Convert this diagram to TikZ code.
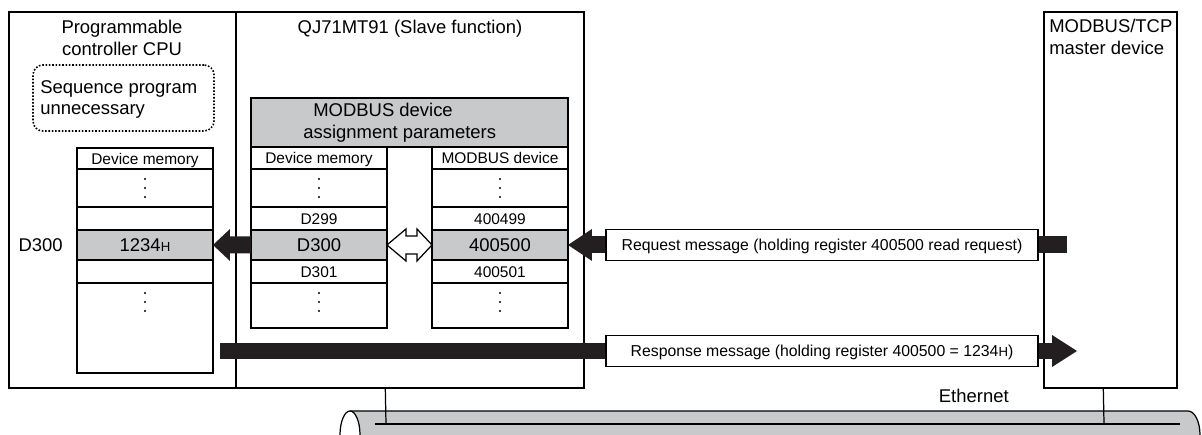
\documentclass[tikz,border=0pt]{standalone}
\usepackage{fontspec}
\setmainfont{Liberation Sans}
\usepackage{xcolor}
\usetikzlibrary{positioning, fit, calc, arrows.meta}

\definecolor{regfill}{RGB}{200,201,202}
\definecolor{arrowfill}{RGB}{35,31,32}
\newcommand{\hexh}{{\fontsize{7.5}{9}\selectfont H}}

\begin{document}
\begin{tikzpicture}[
    x=0.02cm, y=-0.02cm,
    frame/.style={draw, line width=0.8pt, inner sep=0pt},
    title/.style={font=\fontsize{10.5}{12.3}\selectfont, inner sep=0pt, align=left},
    row/.style={draw, line width=0.7pt, minimum width=2.72cm, inner sep=0pt, outer sep=0pt},
    cell/.style={row, font=\fontsize{8.8}{10}\selectfont, text height=6.3pt, text depth=0pt},
    bigcell/.style={cell, fill=regfill, font=\fontsize{10.5}{12}\selectfont, text height=7.5pt},
    msgbox/.style={draw, line width=0.7pt, fill=white, minimum width=8.64cm, minimum height=0.61cm, inner sep=0pt, font=\fontsize{9}{11}\selectfont, text height=6.5pt, text depth=0pt},
    bigarrow/.style={draw=arrowfill, color=arrowfill, line width=0.34cm, -{Triangle[length=#1, width=0.64cm, line width=0pt]}},
    vdotcol/.pic={\fill (0,0) circle (1.1) (0,9) circle (1.1) (0,18) circle (1.1);}
]
\useasboundingbox (0,0) rectangle (1202,435);
\clip (0,0) rectangle (1202,435);

% stations
\node[frame, fit={(9,12) (236,388)}] (cpu) {};
\node[frame, fit={(236,12) (584,388)}] (qj) {};
\node[frame, fit={(1044,12) (1177,388)}] (master) {};

\node[title, align=center, anchor=north] (cputitle) at (122,20) {Programmable\\controller CPU};
\node[title, anchor=base] (qjtitle) at (410,34) {QJ71MT91 (Slave function)};
\node[title, anchor=north west] (mastertitle) at (1049,19) {MODBUS/TCP\\master device};

\node[draw, densely dotted, line width=0.9pt, rounded corners=0.2cm, inner sep=0pt, fit={(33,65) (214,131)}] (seqbox) {};
\node[title, anchor=north west] (seqtext) at (40,80) {Sequence program\\unnecessary};

% CPU device memory
\node[cell, minimum height=0.42cm, anchor=north west] (chead) at (77,148) {Device memory};
\node[row, minimum height=0.76cm, below=0pt of chead] (cdots) {};
\node[cell, minimum height=0.46cm, below=0pt of cdots] (c299) {};
\node[bigcell, minimum height=0.60cm, below=0pt of c299] (c300) {1234\hexh};
\node[cell, minimum height=0.46cm, below=0pt of c300] (c301) {};
\node[row, minimum height=1.80cm, below=0pt of c301] (cend) {};
\pic at ($(cdots.center)+(0,-9)$) {vdotcol};
\pic at ($(cend.north)+(0,10)$) {vdotcol};
\node[title, left=0.28cm of c300] (cpulabel) {D300};

% assignment parameters
\node[draw, line width=0.7pt, fill=regfill, inner sep=0pt, fit={(251,98) (568,147)}] (param) {};
\node[title, anchor=north west] (paramtext) at (303,103) {\hspace*{0.2cm}MODBUS device\\assignment parameters};

\node[cell, minimum height=0.44cm, anchor=north west] (dhead) at (251,147) {Device memory};
\node[row, minimum height=0.76cm, below=0pt of dhead] (ddots) {};
\node[cell, minimum height=0.46cm, below=0pt of ddots] (d299) {D299};
\node[bigcell, minimum height=0.60cm, below=0pt of d299] (d300) {D300};
\node[cell, minimum height=0.46cm, below=0pt of d300] (d301) {D301};
\node[row, minimum height=0.90cm, below=0pt of d301] (dend) {};
\pic at ($(ddots.center)+(0,-9)$) {vdotcol};
\pic at ($(dend.north)+(0,10)$) {vdotcol};

\node[cell, minimum height=0.44cm, anchor=north west] (mhead) at (432,147) {MODBUS device};
\node[row, minimum height=0.76cm, below=0pt of mhead] (mdots) {};
\node[cell, minimum height=0.46cm, below=0pt of mdots] (m499) {400499};
\node[bigcell, minimum height=0.60cm, below=0pt of m499] (m500) {400500};
\node[cell, minimum height=0.46cm, below=0pt of m500] (m501) {400501};
\node[row, minimum height=0.90cm, below=0pt of m501] (mend) {};
\pic at ($(mdots.center)+(0,-9)$) {vdotcol};
\pic at ($(mend.north)+(0,10)$) {vdotcol};

% transfers
\draw[line width=0.7pt, fill=white, line join=miter] (d300.east) -- ++(19,-16) -- ++(0,7) -- ++(11,0) -- ++(0,-7)
    -- (m500.west) -- ++(-15,16) -- ++(0,-7) -- ++(-11,0) -- ++(0,7) -- cycle;
\draw[bigarrow=0.34cm] (d300.west) -- (c300.east);

\coordinate (reqstart) at ($(master.west |- m500.east)+(24,0)$);
\draw[bigarrow=0.48cm] (reqstart) -- (m500.east);
\node[msgbox] (reqmsg) at (822,245) {Request message (holding register 400500 read request)};

\coordinate (resstart) at (220,351);
\coordinate (resend) at (1077,351);
\draw[bigarrow=0.5cm] (resstart) -- (resend);
\node[msgbox] (resmsg) at (822,351) {Response message (holding register 400500 = 1234\hexh)};

% Ethernet
\fill[regfill] (350,411) -- (1188,411) arc[start angle=-90, end angle=90, x radius=12, y radius=24]
    -- (350,459) arc[start angle=90, end angle=-90, x radius=10, y radius=24] -- cycle;
\draw[line width=0.7pt] (350,411) -- (1188,411) arc[start angle=-90, end angle=90, x radius=12, y radius=24] -- (350,459);
\draw[line width=0.7pt, fill=white] (350,435) ellipse [x radius=10, y radius=24];
\coordinate (ethleft) at (375,424);
\coordinate (ethright) at (1180,424);
\draw[line width=0.7pt] (ethleft) -- (ethright);
\draw[line width=0.7pt] (qj.south west) ++(150,0) -- (ethleft -| {386,0});
\draw[line width=0.7pt] (master.south west) ++(60,0) -- (ethleft -| {1104,0});
\node[title, anchor=base east] (ethlabel) at (1009,402) {Ethernet};

\end{tikzpicture}
\end{document}
